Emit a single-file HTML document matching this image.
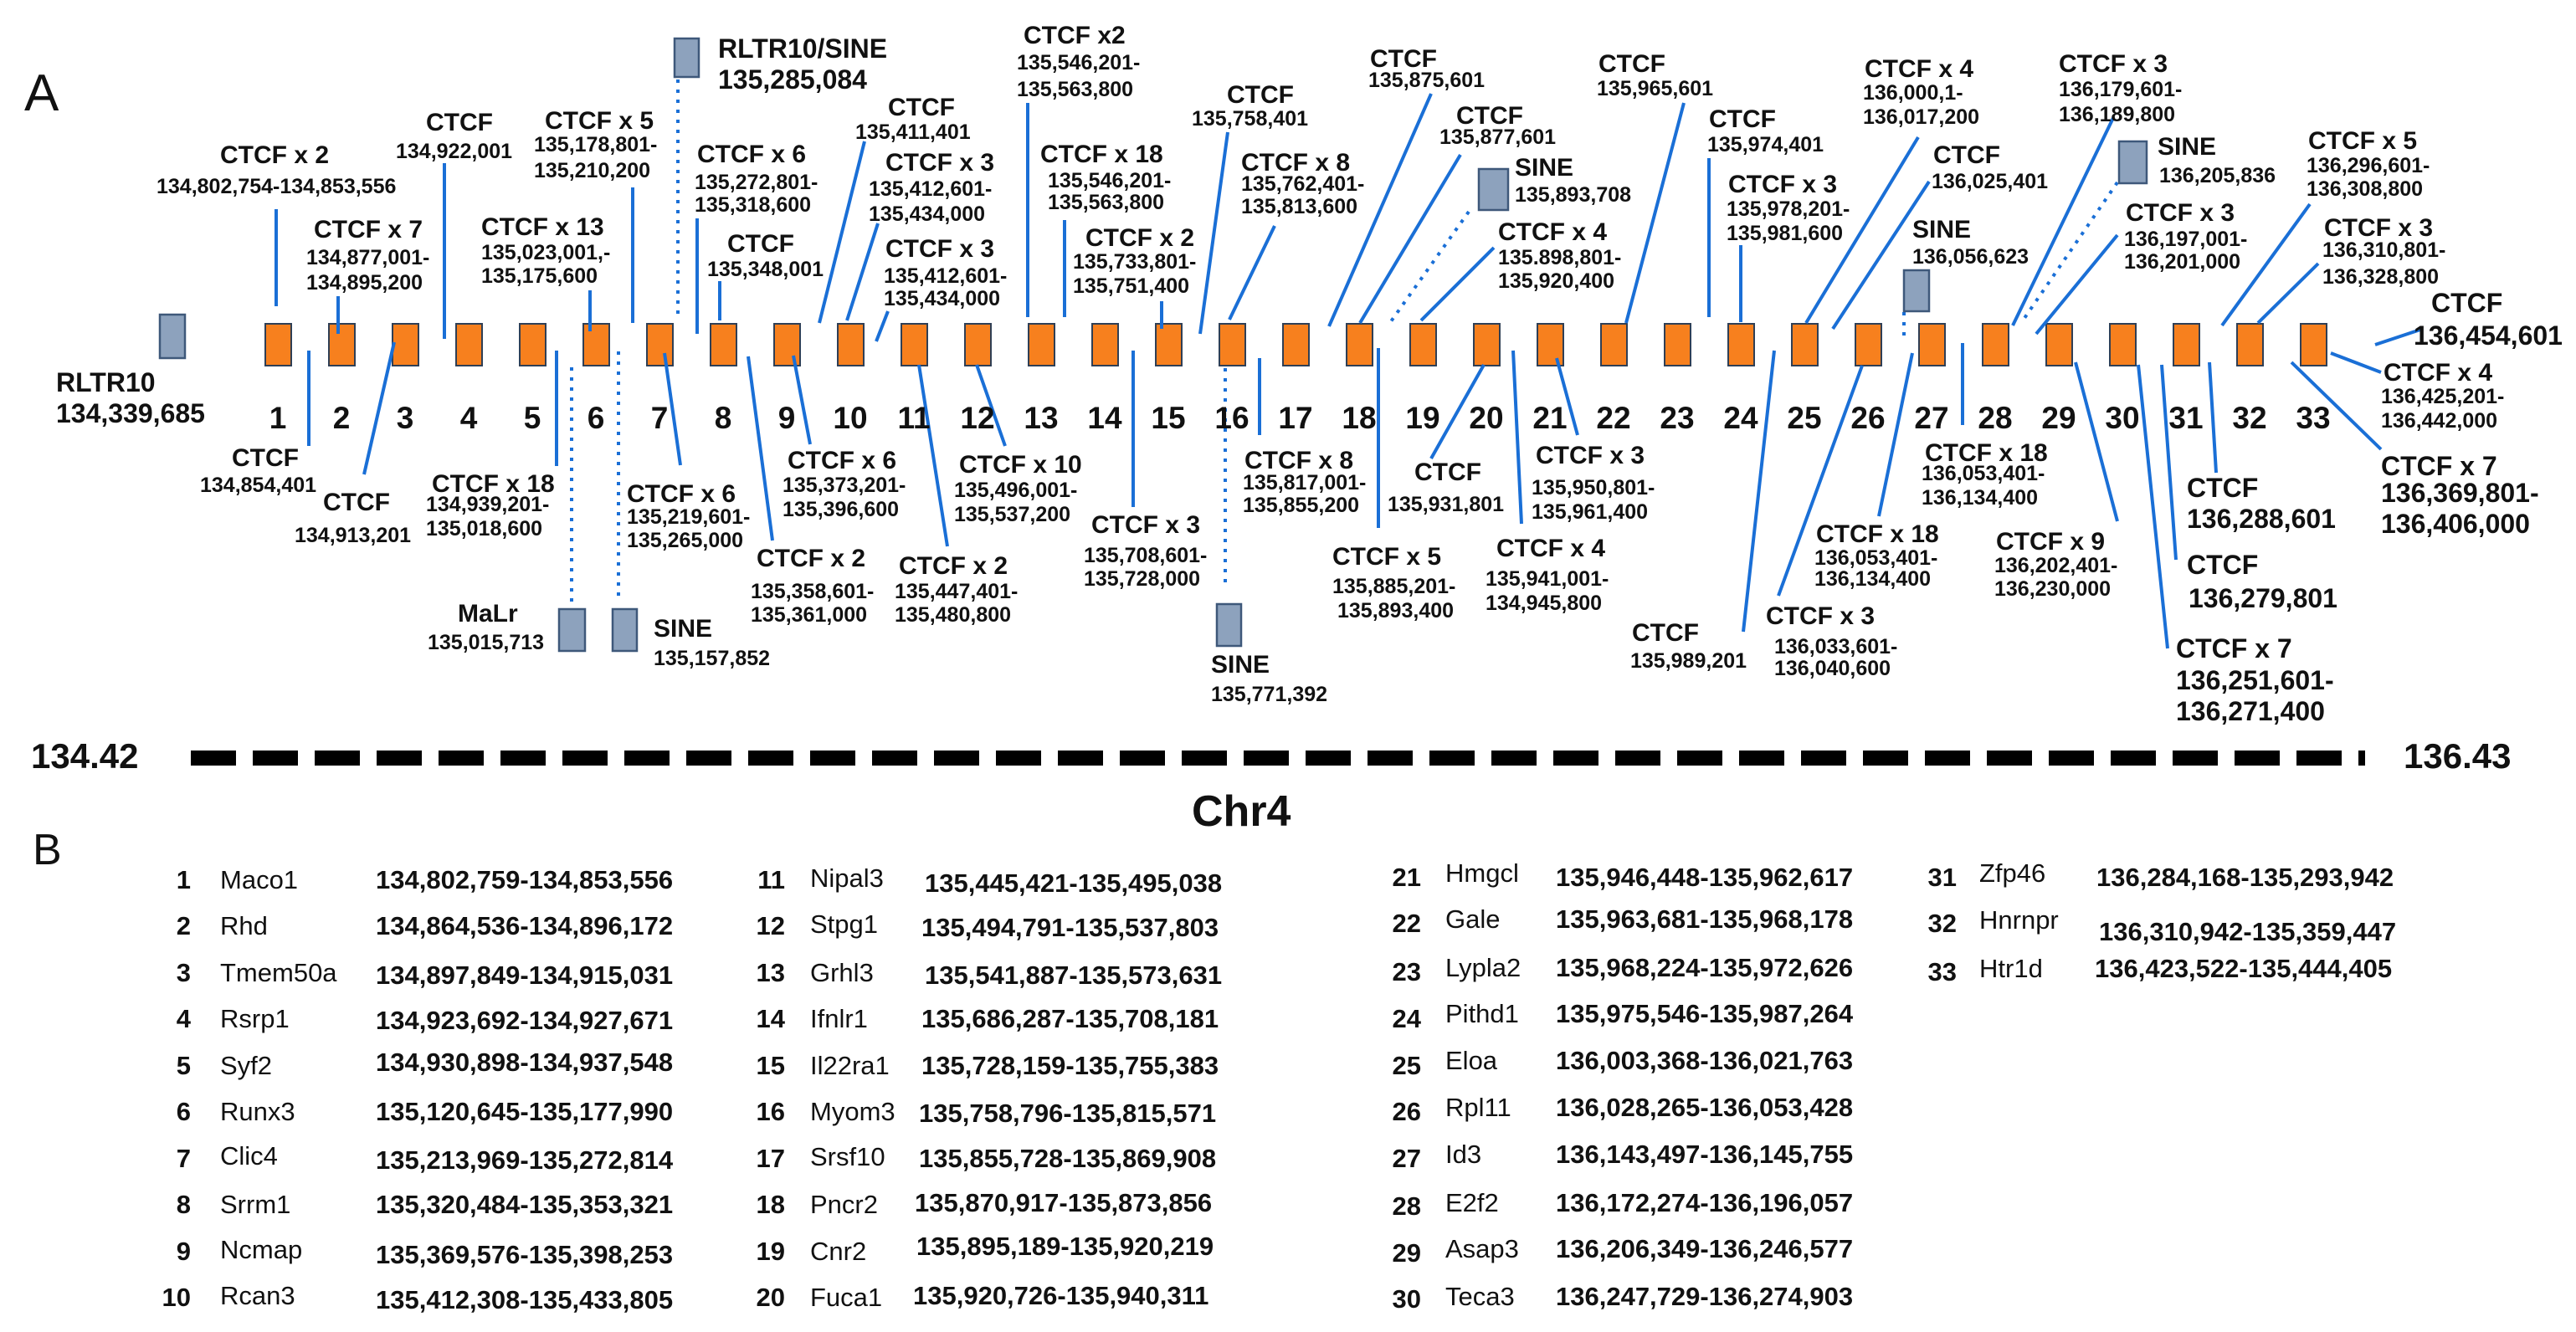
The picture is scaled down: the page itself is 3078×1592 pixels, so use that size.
<!DOCTYPE html>
<html><head><meta charset="utf-8"><style>
html,body{margin:0;padding:0;background:#fff;}
svg{display:block;}
text{font-family:"Liberation Sans",Arial,sans-serif;fill:#111;}
.L{font-size:30px;font-weight:bold;}
.C{font-size:25px;font-weight:bold;}
.B{font-size:32px;font-weight:bold;}
.N{font-size:37px;font-weight:bold;text-anchor:middle;}
.tn{font-size:31px;font-weight:bold;text-anchor:end;}
.tg{font-size:31px;}
.tc{font-size:31px;font-weight:bold;}
.ln line{stroke:#1a6fd6;stroke-width:4;}
.dt line{stroke:#1a6fd6;stroke-width:4;stroke-dasharray:4 8;}
.ob{fill:#f7801e;stroke:#2f3f55;stroke-width:2;}
.gb{fill:#8da2bd;stroke:#3e587a;stroke-width:2.5;}
</style></head><body>
<svg width="3078" height="1592" viewBox="0 0 3078 1592" xmlns="http://www.w3.org/2000/svg">
<text x="29" y="132" style="font-size:62px">A</text>

<g class="dt">
<line x1="810" y1="95" x2="810" y2="383"/>
<line x1="683" y1="439" x2="683" y2="720"/>
<line x1="739" y1="420" x2="739" y2="720"/>
<line x1="1464" y1="428" x2="1464" y2="703"/>
<line x1="1755" y1="253" x2="1660" y2="387"/>
<line x1="2275" y1="373" x2="2275" y2="405"/>
<line x1="2530" y1="218" x2="2415" y2="386"/>
</g>

<g id="boxes">
<rect class="ob" x="317" y="387" width="31" height="50"/>
<rect class="ob" x="393" y="387" width="31" height="50"/>
<rect class="ob" x="469" y="387" width="31" height="50"/>
<rect class="ob" x="545" y="387" width="31" height="50"/>
<rect class="ob" x="621" y="387" width="31" height="50"/>
<rect class="ob" x="697" y="387" width="31" height="50"/>
<rect class="ob" x="773" y="387" width="31" height="50"/>
<rect class="ob" x="849" y="387" width="31" height="50"/>
<rect class="ob" x="925" y="387" width="31" height="50"/>
<rect class="ob" x="1001" y="387" width="31" height="50"/>
<rect class="ob" x="1077" y="387" width="31" height="50"/>
<rect class="ob" x="1153" y="387" width="31" height="50"/>
<rect class="ob" x="1229" y="387" width="31" height="50"/>
<rect class="ob" x="1305" y="387" width="31" height="50"/>
<rect class="ob" x="1381" y="387" width="31" height="50"/>
<rect class="ob" x="1457" y="387" width="31" height="50"/>
<rect class="ob" x="1533" y="387" width="31" height="50"/>
<rect class="ob" x="1609" y="387" width="31" height="50"/>
<rect class="ob" x="1685" y="387" width="31" height="50"/>
<rect class="ob" x="1761" y="387" width="31" height="50"/>
<rect class="ob" x="1837" y="387" width="31" height="50"/>
<rect class="ob" x="1913" y="387" width="31" height="50"/>
<rect class="ob" x="1989" y="387" width="31" height="50"/>
<rect class="ob" x="2065" y="387" width="31" height="50"/>
<rect class="ob" x="2141" y="387" width="31" height="50"/>
<rect class="ob" x="2217" y="387" width="31" height="50"/>
<rect class="ob" x="2293" y="387" width="31" height="50"/>
<rect class="ob" x="2369" y="387" width="31" height="50"/>
<rect class="ob" x="2445" y="387" width="31" height="50"/>
<rect class="ob" x="2521" y="387" width="31" height="50"/>
<rect class="ob" x="2597" y="387" width="31" height="50"/>
<rect class="ob" x="2673" y="387" width="31" height="50"/>
<rect class="ob" x="2749" y="387" width="31" height="50"/>
</g>

<rect class="gb" x="191" y="376" width="30" height="52"/>
<rect class="gb" x="806" y="46" width="29" height="46"/>
<rect class="gb" x="668" y="728" width="31" height="50"/>
<rect class="gb" x="732" y="728" width="29" height="50"/>
<rect class="gb" x="1454" y="722" width="29" height="50"/>
<rect class="gb" x="1767" y="202" width="35" height="49"/>
<rect class="gb" x="2275" y="323" width="30" height="49"/>
<rect class="gb" x="2532" y="169" width="33" height="50"/>

<g class="ln">
<line x1="330" y1="250" x2="330" y2="366"/>
<line x1="404" y1="354" x2="404" y2="399"/>
<line x1="531" y1="195" x2="531" y2="405"/>
<line x1="756" y1="224" x2="756" y2="386"/>
<line x1="705" y1="347" x2="705" y2="396"/>
<line x1="833" y1="261" x2="833" y2="399"/>
<line x1="860" y1="336" x2="860" y2="383"/>
<line x1="1033" y1="169" x2="979" y2="386"/>
<line x1="1049" y1="267" x2="1012" y2="383"/>
<line x1="1061" y1="372" x2="1047" y2="408"/>
<line x1="1228" y1="123" x2="1228" y2="379"/>
<line x1="1272" y1="263" x2="1272" y2="379"/>
<line x1="1388" y1="360" x2="1388" y2="393"/>
<line x1="1467" y1="158" x2="1434" y2="399"/>
<line x1="1523" y1="270" x2="1469" y2="382"/>
<line x1="1710" y1="112" x2="1588" y2="390"/>
<line x1="1745" y1="185" x2="1625" y2="386"/>
<line x1="1785" y1="296" x2="1698" y2="383"/>
<line x1="2012" y1="123" x2="1943" y2="386"/>
<line x1="2042" y1="189" x2="2042" y2="379"/>
<line x1="2080" y1="293" x2="2080" y2="385"/>
<line x1="2292" y1="164" x2="2158" y2="386"/>
<line x1="2305" y1="217" x2="2190" y2="393"/>
<line x1="2525" y1="141" x2="2405" y2="389"/>
<line x1="2530" y1="281" x2="2433" y2="399"/>
<line x1="2760" y1="244" x2="2655" y2="389"/>
<line x1="2770" y1="315" x2="2698" y2="386"/>
<line x1="2895" y1="393" x2="2838" y2="412"/>
<line x1="369" y1="419" x2="369" y2="533"/>
<line x1="471" y1="409" x2="435" y2="567"/>
<line x1="665" y1="419" x2="665" y2="557"/>
<line x1="794" y1="422" x2="813" y2="556"/>
<line x1="894" y1="426" x2="923" y2="646"/>
<line x1="948" y1="425" x2="968" y2="531"/>
<line x1="1098" y1="436" x2="1132" y2="653"/>
<line x1="1167" y1="436" x2="1201" y2="533"/>
<line x1="1354" y1="419" x2="1354" y2="606"/>
<line x1="1505" y1="428" x2="1505" y2="520"/>
<line x1="1647" y1="416" x2="1647" y2="631"/>
<line x1="1773" y1="436" x2="1710" y2="548"/>
<line x1="1808" y1="419" x2="1818" y2="626"/>
<line x1="1860" y1="428" x2="1885" y2="520"/>
<line x1="2120" y1="419" x2="2083" y2="755"/>
<line x1="2225" y1="437" x2="2125" y2="712"/>
<line x1="2285" y1="422" x2="2245" y2="617"/>
<line x1="2345" y1="410" x2="2345" y2="508"/>
<line x1="2480" y1="433" x2="2530" y2="623"/>
<line x1="2555" y1="436" x2="2590" y2="775"/>
<line x1="2583" y1="436" x2="2600" y2="669"/>
<line x1="2640" y1="433" x2="2648" y2="565"/>
<line x1="2738" y1="433" x2="2845" y2="537"/>
<line x1="2785" y1="422" x2="2845" y2="445"/>
</g>

<g>
<text class="N" x="332" y="512">1</text><text class="N" x="408" y="512">2</text><text class="N" x="484" y="512">3</text><text class="N" x="560" y="512">4</text><text class="N" x="636" y="512">5</text><text class="N" x="712" y="512">6</text><text class="N" x="788" y="512">7</text><text class="N" x="864" y="512">8</text><text class="N" x="940" y="512">9</text><text class="N" x="1016" y="512">10</text><text class="N" x="1092" y="512">11</text><text class="N" x="1168" y="512">12</text><text class="N" x="1244" y="512">13</text><text class="N" x="1320" y="512">14</text><text class="N" x="1396" y="512">15</text><text class="N" x="1472" y="512">16</text><text class="N" x="1548" y="512">17</text><text class="N" x="1624" y="512">18</text><text class="N" x="1700" y="512">19</text><text class="N" x="1776" y="512">20</text><text class="N" x="1852" y="512">21</text><text class="N" x="1928" y="512">22</text><text class="N" x="2004" y="512">23</text><text class="N" x="2080" y="512">24</text><text class="N" x="2156" y="512">25</text><text class="N" x="2232" y="512">26</text><text class="N" x="2308" y="512">27</text><text class="N" x="2384" y="512">28</text><text class="N" x="2460" y="512">29</text><text class="N" x="2536" y="512">30</text><text class="N" x="2612" y="512">31</text><text class="N" x="2688" y="512">32</text><text class="N" x="2764" y="512">33</text>
</g>

<text class="L" x="263" y="195">CTCF x 2</text><text class="C" x="187" y="231">134,802,754-134,853,556</text>
<text class="L" x="375" y="284">CTCF x 7</text><text class="C" x="366" y="316">134,877,001-</text><text class="C" x="366" y="346">134,895,200</text>
<text class="L" x="509" y="156">CTCF</text><text class="C" x="473" y="189">134,922,001</text>
<text class="L" x="651" y="154">CTCF x 5</text><text class="C" x="638" y="181">135,178,801-</text><text class="C" x="638" y="212">135,210,200</text>
<text class="L" x="575" y="281">CTCF x 13</text><text class="C" x="575" y="310">135,023,001,-</text><text class="C" x="575" y="338">135,175,600</text>
<text class="B" x="858" y="69">RLTR10/SINE</text><text class="B" x="858" y="106">135,285,084</text>
<text class="L" x="833" y="194">CTCF x 6</text><text class="C" x="830" y="226">135,272,801-</text><text class="C" x="830" y="253">135,318,600</text>
<text class="L" x="869" y="301">CTCF</text><text class="C" x="845" y="330">135,348,001</text>
<text class="L" x="1061" y="138">CTCF</text><text class="C" x="1022" y="166">135,411,401</text>
<text class="L" x="1058" y="204">CTCF x 3</text><text class="C" x="1038" y="234">135,412,601-</text><text class="C" x="1038" y="264">135,434,000</text>
<text class="L" x="1058" y="307">CTCF x 3</text><text class="C" x="1056" y="338">135,412,601-</text><text class="C" x="1056" y="365">135,434,000</text>
<text class="L" x="1223" y="52">CTCF x2</text><text class="C" x="1215" y="83">135,546,201-</text><text class="C" x="1215" y="115">135,563,800</text>
<text class="L" x="1243" y="194">CTCF x 18</text><text class="C" x="1252" y="224">135,546,201-</text><text class="C" x="1252" y="250">135,563,800</text>
<text class="L" x="1297" y="294">CTCF x 2</text><text class="C" x="1282" y="321">135,733,801-</text><text class="C" x="1282" y="350">135,751,400</text>
<text class="L" x="1466" y="123">CTCF</text><text class="C" x="1424" y="150">135,758,401</text>
<text class="L" x="1483" y="204">CTCF x 8</text><text class="C" x="1483" y="228">135,762,401-</text><text class="C" x="1483" y="255">135,813,600</text>
<text class="L" x="1637" y="80">CTCF</text><text class="C" x="1635" y="104">135,875,601</text>
<text class="L" x="1740" y="148">CTCF</text><text class="C" x="1720" y="172">135,877,601</text>
<text class="L" x="1810" y="210">SINE</text><text class="C" x="1810" y="241">135,893,708</text>
<text class="L" x="1790" y="287">CTCF x 4</text><text class="C" x="1790" y="316">135.898,801-</text><text class="C" x="1790" y="344">135,920,400</text>
<text class="L" x="1910" y="86">CTCF</text><text class="C" x="1908" y="114">135,965,601</text>
<text class="L" x="2042" y="152">CTCF</text><text class="C" x="2040" y="181">135,974,401</text>
<text class="L" x="2065" y="230">CTCF x 3</text><text class="C" x="2063" y="258">135,978,201-</text><text class="C" x="2063" y="287">135,981,600</text>
<text class="L" x="2228" y="92">CTCF x 4</text><text class="C" x="2226" y="119">136,000,1-</text><text class="C" x="2226" y="148">136,017,200</text>
<text class="L" x="2310" y="195">CTCF</text><text class="C" x="2308" y="225">136,025,401</text>
<text class="L" x="2285" y="284">SINE</text><text class="C" x="2285" y="315">136,056,623</text>
<text class="L" x="2460" y="86">CTCF x 3</text><text class="C" x="2460" y="115">136,179,601-</text><text class="C" x="2460" y="145">136,189,800</text>
<text class="L" x="2578" y="185">SINE</text><text class="C" x="2580" y="218">136,205,836</text>
<text class="L" x="2540" y="264">CTCF x 3</text><text class="C" x="2538" y="294">136,197,001-</text><text class="C" x="2538" y="321">136,201,000</text>
<text class="L" x="2758" y="178">CTCF x 5</text><text class="C" x="2756" y="206">136,296,601-</text><text class="C" x="2756" y="234">136,308,800</text>
<text class="L" x="2777" y="282">CTCF x 3</text><text class="C" x="2775" y="307">136,310,801-</text><text class="C" x="2775" y="339">136,328,800</text>
<text class="B" x="2905" y="373">CTCF</text><text class="B" x="2884" y="412">136,454,601</text>

<text class="B" x="67" y="468">RLTR10</text><text class="B" x="67" y="505">134,339,685</text>
<text class="L" x="277" y="557">CTCF</text><text class="C" x="239" y="588">134,854,401</text>
<text class="L" x="386" y="610">CTCF</text><text class="C" x="352" y="648">134,913,201</text>
<text class="L" x="516" y="588">CTCF x 18</text><text class="C" x="509" y="611">134,939,201-</text><text class="C" x="509" y="640">135,018,600</text>
<text class="L" x="547" y="743">MaLr</text><text class="C" x="511" y="776">135,015,713</text>
<text class="L" x="781" y="761">SINE</text><text class="C" x="781" y="795">135,157,852</text>
<text class="L" x="749" y="600">CTCF x 6</text><text class="C" x="749" y="626">135,219,601-</text><text class="C" x="749" y="654">135,265,000</text>
<text class="L" x="904" y="677">CTCF x 2</text><text class="C" x="897" y="715">135,358,601-</text><text class="C" x="897" y="743">135,361,000</text>
<text class="L" x="941" y="560">CTCF x 6</text><text class="C" x="935" y="588">135,373,201-</text><text class="C" x="935" y="617">135,396,600</text>
<text class="L" x="1074" y="686">CTCF x 2</text><text class="C" x="1069" y="715">135,447,401-</text><text class="C" x="1069" y="743">135,480,800</text>
<text class="L" x="1146" y="565">CTCF x 10</text><text class="C" x="1140" y="594">135,496,001-</text><text class="C" x="1140" y="623">135,537,200</text>
<text class="L" x="1304" y="637">CTCF x 3</text><text class="C" x="1295" y="672">135,708,601-</text><text class="C" x="1295" y="700">135,728,000</text>
<text class="L" x="1447" y="804">SINE</text><text class="C" x="1447" y="838">135,771,392</text>
<text class="L" x="1487" y="560">CTCF x 8</text><text class="C" x="1485" y="585">135,817,001-</text><text class="C" x="1485" y="612">135,855,200</text>
<text class="L" x="1592" y="675">CTCF x 5</text><text class="C" x="1592" y="709">135,885,201-</text><text class="C" x="1598" y="738">135,893,400</text>
<text class="L" x="1690" y="574">CTCF</text><text class="C" x="1658" y="611">135,931,801</text>
<text class="L" x="1835" y="554">CTCF x 3</text><text class="C" x="1830" y="591">135,950,801-</text><text class="C" x="1830" y="620">135,961,400</text>
<text class="L" x="1788" y="665">CTCF x 4</text><text class="C" x="1775" y="700">135,941,001-</text><text class="C" x="1775" y="729">134,945,800</text>
<text class="L" x="1950" y="766">CTCF</text><text class="C" x="1948" y="798">135,989,201</text>
<text class="L" x="2110" y="746">CTCF x 3</text><text class="C" x="2120" y="781">136,033,601-</text><text class="C" x="2120" y="807">136,040,600</text>
<text class="L" x="2170" y="648">CTCF x 18</text><text class="C" x="2168" y="675">136,053,401-</text><text class="C" x="2168" y="700">136,134,400</text>
<text class="L" x="2300" y="551">CTCF x 18</text><text class="C" x="2296" y="574">136,053,401-</text><text class="C" x="2296" y="603">136,134,400</text>
<text class="L" x="2385" y="657">CTCF x 9</text><text class="C" x="2383" y="684">136,202,401-</text><text class="C" x="2383" y="712">136,230,000</text>
<text class="B" x="2613" y="594">CTCF</text><text class="B" x="2613" y="631">136,288,601</text>
<text class="B" x="2613" y="686">CTCF</text><text class="B" x="2615" y="726">136,279,801</text>
<text class="B" x="2600" y="786">CTCF x 7</text><text class="B" x="2600" y="824">136,251,601-</text><text class="B" x="2600" y="861">136,271,400</text>
<text class="L" x="2848" y="455">CTCF x 4</text><text class="C" x="2845" y="482">136,425,201-</text><text class="C" x="2845" y="511">136,442,000</text>
<text class="B" x="2845" y="568">CTCF x 7</text><text class="B" x="2845" y="600">136,369,801-</text><text class="B" x="2845" y="637">136,406,000</text>

<text x="37" y="918" style="font-size:42px;font-weight:bold">134.42</text>
<line x1="228" y1="906" x2="2826" y2="906" stroke="#000" stroke-width="18" stroke-dasharray="54 20"/>
<text x="2872" y="918" style="font-size:42px;font-weight:bold">136.43</text>
<text x="1424" y="987" style="font-size:52px;font-weight:bold">Chr4</text>

<text x="39" y="1033" style="font-size:52px">B</text>
<g>
<text class="tn" x="228" y="1062">1</text><text class="tg" x="263" y="1062">Maco1</text><text class="tc" x="449" y="1062">134,802,759-134,853,556</text>
<text class="tn" x="228" y="1117">2</text><text class="tg" x="263" y="1117">Rhd</text><text class="tc" x="449" y="1117">134,864,536-134,896,172</text>
<text class="tn" x="228" y="1173">3</text><text class="tg" x="263" y="1173">Tmem50a</text><text class="tc" x="449" y="1176">134,897,849-134,915,031</text>
<text class="tn" x="228" y="1228">4</text><text class="tg" x="263" y="1228">Rsrp1</text><text class="tc" x="449" y="1230">134,923,692-134,927,671</text>
<text class="tn" x="228" y="1284">5</text><text class="tg" x="263" y="1284">Syf2</text><text class="tc" x="449" y="1280">134,930,898-134,937,548</text>
<text class="tn" x="228" y="1339">6</text><text class="tg" x="263" y="1339">Runx3</text><text class="tc" x="449" y="1339">135,120,645-135,177,990</text>
<text class="tn" x="228" y="1395">7</text><text class="tg" x="263" y="1392">Clic4</text><text class="tc" x="449" y="1397">135,213,969-135,272,814</text>
<text class="tn" x="228" y="1450">8</text><text class="tg" x="263" y="1450">Srrm1</text><text class="tc" x="449" y="1450">135,320,484-135,353,321</text>
<text class="tn" x="228" y="1506">9</text><text class="tg" x="263" y="1504">Ncmap</text><text class="tc" x="449" y="1510">135,369,576-135,398,253</text>
<text class="tn" x="228" y="1561">10</text><text class="tg" x="263" y="1559">Rcan3</text><text class="tc" x="449" y="1564">135,412,308-135,433,805</text>

<text class="tn" x="938" y="1062">11</text><text class="tg" x="968" y="1060">Nipal3</text><text class="tc" x="1105" y="1066">135,445,421-135,495,038</text>
<text class="tn" x="938" y="1117">12</text><text class="tg" x="968" y="1115">Stpg1</text><text class="tc" x="1101" y="1119">135,494,791-135,537,803</text>
<text class="tn" x="938" y="1173">13</text><text class="tg" x="968" y="1173">Grhl3</text><text class="tc" x="1105" y="1176">135,541,887-135,573,631</text>
<text class="tn" x="938" y="1228">14</text><text class="tg" x="968" y="1228">Ifnlr1</text><text class="tc" x="1101" y="1228">135,686,287-135,708,181</text>
<text class="tn" x="938" y="1284">15</text><text class="tg" x="968" y="1284">Il22ra1</text><text class="tc" x="1101" y="1284">135,728,159-135,755,383</text>
<text class="tn" x="938" y="1339">16</text><text class="tg" x="968" y="1339">Myom3</text><text class="tc" x="1098" y="1341">135,758,796-135,815,571</text>
<text class="tn" x="938" y="1395">17</text><text class="tg" x="968" y="1393">Srsf10</text><text class="tc" x="1098" y="1395">135,855,728-135,869,908</text>
<text class="tn" x="938" y="1450">18</text><text class="tg" x="968" y="1450">Pncr2</text><text class="tc" x="1093" y="1448">135,870,917-135,873,856</text>
<text class="tn" x="938" y="1506">19</text><text class="tg" x="968" y="1506">Cnr2</text><text class="tc" x="1095" y="1500">135,895,189-135,920,219</text>
<text class="tn" x="938" y="1561">20</text><text class="tg" x="968" y="1561">Fuca1</text><text class="tc" x="1091" y="1559">135,920,726-135,940,311</text>

<text class="tn" x="1698" y="1059">21</text><text class="tg" x="1727" y="1054">Hmgcl</text><text class="tc" x="1859" y="1059">135,946,448-135,962,617</text>
<text class="tn" x="1698" y="1114">22</text><text class="tg" x="1727" y="1109">Gale</text><text class="tc" x="1859" y="1109">135,963,681-135,968,178</text>
<text class="tn" x="1698" y="1172">23</text><text class="tg" x="1727" y="1167">Lypla2</text><text class="tc" x="1859" y="1167">135,968,224-135,972,626</text>
<text class="tn" x="1698" y="1228">24</text><text class="tg" x="1727" y="1222">Pithd1</text><text class="tc" x="1859" y="1222">135,975,546-135,987,264</text>
<text class="tn" x="1698" y="1284">25</text><text class="tg" x="1727" y="1278">Eloa</text><text class="tc" x="1859" y="1278">136,003,368-136,021,763</text>
<text class="tn" x="1698" y="1339">26</text><text class="tg" x="1727" y="1334">Rpl11</text><text class="tc" x="1859" y="1334">136,028,265-136,053,428</text>
<text class="tn" x="1698" y="1395">27</text><text class="tg" x="1727" y="1390">Id3</text><text class="tc" x="1859" y="1390">136,143,497-136,145,755</text>
<text class="tn" x="1698" y="1452">28</text><text class="tg" x="1727" y="1448">E2f2</text><text class="tc" x="1859" y="1448">136,172,274-136,196,057</text>
<text class="tn" x="1698" y="1508">29</text><text class="tg" x="1727" y="1503">Asap3</text><text class="tc" x="1859" y="1503">136,206,349-136,246,577</text>
<text class="tn" x="1698" y="1563">30</text><text class="tg" x="1727" y="1560">Teca3</text><text class="tc" x="1859" y="1560">136,247,729-136,274,903</text>

<text class="tn" x="2338" y="1059">31</text><text class="tg" x="2365" y="1054">Zfp46</text><text class="tc" x="2505" y="1059">136,284,168-135,293,942</text>
<text class="tn" x="2338" y="1114">32</text><text class="tg" x="2365" y="1110">Hnrnpr</text><text class="tc" x="2508" y="1124">136,310,942-135,359,447</text>
<text class="tn" x="2338" y="1172">33</text><text class="tg" x="2365" y="1168">Htr1d</text><text class="tc" x="2503" y="1168">136,423,522-135,444,405</text>
</g>
</svg>
</body></html>
